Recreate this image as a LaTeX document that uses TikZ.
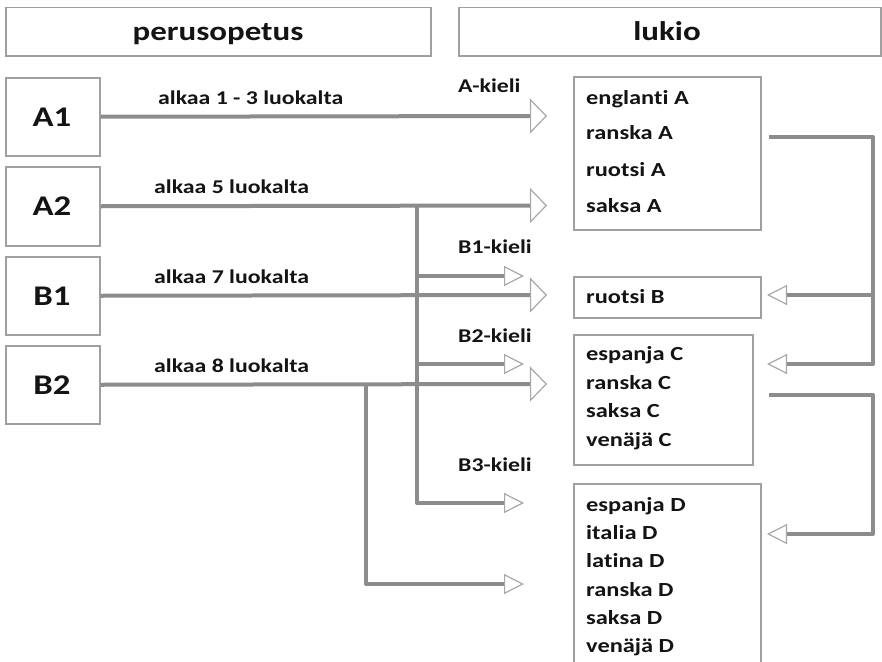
\documentclass[tikz,border=0pt]{standalone}
\usepackage{fontspec}
\setmainfont{Carlito}[FakeStretch=1.22,Ligatures=NoCommon]
\usetikzlibrary{arrows.meta}
\definecolor{linegray}{HTML}{8C8C8C}
\definecolor{boxgray}{HTML}{A0A0A0}
\definecolor{tipgray}{HTML}{A8A8A8}
\definecolor{textblack}{HTML}{141414}
\begin{document}
\begin{tikzpicture}[x=1pt,y=-1pt,
  box/.style={draw=boxgray,line width=1.5pt,inner sep=0pt,anchor=north west,fill=white},
  conn/.style={draw=linegray,line width=4pt,line join=round},
  bigtip/.style={-{Triangle[length=17pt,width=35pt,color=tipgray,fill=white,line width=1.2pt]}},
  smalltip/.style={-{Triangle[length=20pt,width=20pt,color=tipgray,fill=white,line width=1.2pt]}},
  titletxt/.style={font=\bfseries\fontsize{27}{31}\selectfont,text=textblack,inner sep=0pt,anchor=base},
  keytxt/.style={font=\bfseries\fontsize{28.5}{32}\selectfont,text=textblack,inner sep=0pt,anchor=base},
  labtxt/.style={font=\bfseries\fontsize{19.5}{23}\selectfont,text=textblack,inner sep=0pt,anchor=base west},
  itemtxt/.style={font=\bfseries\fontsize{20}{24}\selectfont,text=textblack,inner sep=0pt,anchor=base west}
]
\clip (0,0) rectangle (882,661);
\fill[white] (0,0) rectangle (882,661);

% header boxes
\node[box,minimum width=425pt,minimum height=48pt] (peru) at (5,7) {};
\node[titletxt] (perut) at (218,41) {perusopetus};
\node[box,minimum width=422pt,minimum height=48pt] (lukio) at (458,7) {};
\node[titletxt] (lukiot) at (667,41) {lukio};

% left boxes
\node[box,minimum width=94pt,minimum height=78pt] (a1) at (5,77) {};
\node[box,minimum width=94pt,minimum height=79pt] (a2) at (5,166) {};
\node[box,minimum width=94pt,minimum height=78pt] (b1) at (5,256) {};
\node[box,minimum width=94pt,minimum height=78pt] (b2) at (5,345) {};
\node[keytxt] (a1t) at (52,126) {A1};
\node[keytxt] (a2t) at (52,215.5) {A2};
\node[keytxt] (b1t) at (52,305) {B1};
\node[keytxt] (b2t) at (52,394) {B2};

% right boxes
\node[box,minimum width=187pt,minimum height=153pt] (boxA) at (573,76) {};
\node[box,minimum width=187pt,minimum height=41pt] (boxB) at (573,276) {};
\node[box,minimum width=179pt,minimum height=130pt] (boxC) at (573,334) {};
\node[box,minimum width=187pt,minimum height=220pt] (boxD) at (573,483) {};

\node[itemtxt] (ia1) at (586,104) {englanti A};
\node[itemtxt] (ia2) at (586,139) {ranska A};
\node[itemtxt] (ia3) at (586,176) {ruotsi A};
\node[itemtxt] (ia4) at (586,212) {saksa A};
\node[itemtxt] (ib1) at (586,303) {ruotsi B};
\node[itemtxt] (ic1) at (586,360) {espanja C};
\node[itemtxt] (ic2) at (586,389) {ranska C};
\node[itemtxt] (ic3) at (586,417) {saksa C};
\node[itemtxt] (ic4) at (586,446) {venäjä C};
\node[itemtxt] (id1) at (586,511) {espanja D};
\node[itemtxt] (id2) at (586,539) {italia D};
\node[itemtxt] (id3) at (586,567) {latina D};
\node[itemtxt] (id4) at (586,596) {ranska D};
\node[itemtxt] (id5) at (586,624) {saksa D};
\node[itemtxt] (id6) at (586,652) {venäjä D};

% line labels
\node[labtxt] (l1) at (158,104) {alkaa 1 - 3 luokalta};
\node[labtxt] (l2) at (154,193) {alkaa 5 luokalta};
\node[labtxt] (l3) at (154,283) {alkaa 7 luokalta};
\node[labtxt] (l4) at (154,372) {alkaa 8 luokalta};
\node[labtxt] (kA) at (458,92) {A-kieli};
\node[labtxt] (kB1) at (458,253) {B1-kieli};
\node[labtxt] (kB2) at (458,342) {B2-kieli};
\node[labtxt] (kB3) at (458,471) {B3-kieli};

% coordinates
\coordinate (tA1) at (547,116);
\coordinate (tA2) at (547,205.5);
\coordinate (tB1) at (547,295);
\coordinate (tB2) at (547,384);
\coordinate (j1) at (417,205.5);
\coordinate (jB1) at (417,276);
\coordinate (sB1) at (524,276);
\coordinate (jB2) at (417,364);
\coordinate (sB2) at (524,364);
\coordinate (sB3) at (524,503);
\coordinate (j2) at (366,384);
\coordinate (sB4) at (524,584);
\coordinate (sA) at (769,137);
\coordinate (rc1) at (873,364);
\coordinate (jR) at (873,295);
\coordinate (tRB) at (767,295);
\coordinate (tRC) at (767,364);
\coordinate (sC) at (769,395);
\coordinate (rc2) at (873,534);
\coordinate (tRD) at (767,534);

% connectors
\draw[conn,smalltip] (j1) |- (sB3);
\draw[conn,smalltip] (jB1) -- (sB1);
\draw[conn,smalltip] (jB2) -- (sB2);
\draw[conn,smalltip] (j2) |- (sB4);
\draw[conn,bigtip] (a1.east) -- (tA1);
\draw[conn,bigtip] (a2.east) -- (tA2);
\draw[conn,bigtip] (b1.east) -- (tB1);
\draw[conn,bigtip] (b2.east) -- (tB2);

\draw[conn,smalltip] (sA) -| (rc1) -- (tRC);
\draw[conn,smalltip] (jR) -- (tRB);
\draw[conn,smalltip] (sC) -| (rc2) -- (tRD);
\end{tikzpicture}
\end{document}
